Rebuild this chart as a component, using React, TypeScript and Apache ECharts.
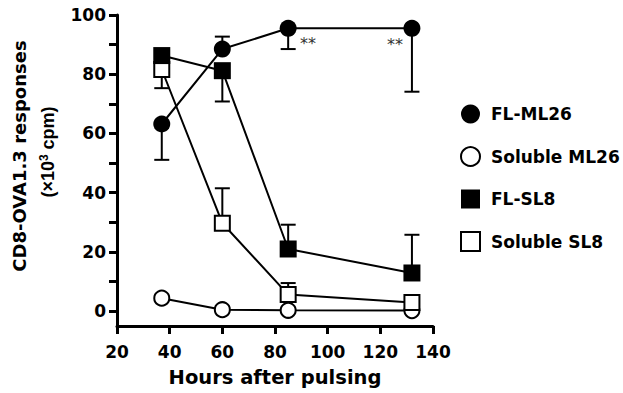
import React, { useEffect, useRef } from "react";
import * as echarts from "echarts";

// ---- data ----
const hours = [37, 60, 85, 132];
const seriesNames = ["FL-ML26", "Soluble ML26", "FL-SL8", "Soluble SL8"];
const flMl26 = [63.2, 88.5, 95.5, 95.5];
const solMl26 = [4.4, 0.5, 0.3, 0.2];
const flSl8 = [86.3, 81.2, 21.0, 12.9];
const solSl8 = [81.6, 29.7, 5.6, 2.9];
// one-sided error bar ends (null = no visible bar)
const flMl26Err = [51.1, 92.7, 88.5, 74.1];
const flSl8Err = [null, 70.8, 29.2, 25.8];
const solSl8Err = [75.3, 41.5, 9.5, null];
// significance marks
const starPoints = [
  [92.5, 90.4],
  [125.6, 90.2],
];
const starText = "**";
// axis ticks
const xTicks = [20, 40, 60, 80, 100, 120, 140];
const yTicks = [0, 10, 20, 30, 40, 50, 60, 70, 80, 90, 100];
const yLabels = [0, 20, 40, 60, 80, 100];
const xTitle = "Hours after pulsing";
const yTitle1 = "CD8-OVA1.3 responses";
const yTitle2 = "(×10{sup|3} cpm)";

const FONT = "DejaVu Sans";

function pts(vals: number[]) {
  return hours.map((h, i) => [h, vals[i]]);
}
function errPts(vals: number[], errs: (number | null)[]) {
  const out: number[][] = [];
  hours.forEach((h, i) => {
    const e = errs[i];
    if (e !== null) out.push([h, vals[i], e]);
  });
  return out;
}

export default function App() {
  const ref = useRef<HTMLDivElement>(null);
  useEffect(() => {
    if (!ref.current) return;
    const chart = echarts.init(ref.current, undefined, { renderer: "svg" });

    const errRender = (params: any, api: any) => {
      const x = api.value(0);
      const y = api.value(1);
      const e = api.value(2);
      const p0 = api.coord([x, y]);
      const p1 = api.coord([x, e]);
      const hw = 7.5;
      return {
        type: "group",
        children: [
          {
            type: "line",
            shape: { x1: p0[0], y1: p0[1], x2: p1[0], y2: p1[1] },
            style: { stroke: "#000", lineWidth: 2 },
          },
          {
            type: "line",
            shape: { x1: p1[0] - hw, y1: p1[1], x2: p1[0] + hw, y2: p1[1] },
            style: { stroke: "#000", lineWidth: 2 },
          },
        ],
      };
    };

    const starRender = (params: any, api: any) => {
      const p = api.coord([api.value(0), api.value(1)]);
      return {
        type: "text",
        x: p[0],
        y: p[1],
        style: {
          text: starText,
          fill: "#333",
          fontFamily: FONT,
          fontSize: 16,
          align: "center",
          verticalAlign: "middle",
        },
      };
    };

    const filled = { color: "#000", borderColor: "#000", borderWidth: 0 };
    const open = { color: "#fff", borderColor: "#000", borderWidth: 2 };
    const lineStyle = { color: "#000", width: 2 };

    const option: any = {
      animation: false,
      backgroundColor: "#fff",
      grid: { left: 117, right: 190, top: 15, bottom: 67, containLabel: false },
      xAxis: {
        type: "value",
        min: xTicks[0],
        max: xTicks[xTicks.length - 1],
        interval: 20,
        name: xTitle,
        nameLocation: "middle",
        nameGap: 41,
        nameTextStyle: { fontFamily: FONT, fontWeight: "bold", fontSize: 19.5, color: "#000" },
        axisLine: { show: true, onZero: false, lineStyle: { color: "#000", width: 3 } },
        axisTick: { show: true, length: 8, lineStyle: { color: "#000", width: 3 } },
        axisLabel: { margin: 17, fontFamily: FONT, fontWeight: "bold", fontSize: 17, color: "#000" },
        splitLine: { show: false },
      },
      yAxis: {
        type: "value",
        min: -5,
        max: 100,
        axisLine: { show: true, onZero: false, lineStyle: { color: "#000", width: 3 } },
        axisTick: {
          show: true,
          length: 8,
          customValues: yTicks,
          lineStyle: { color: "#000", width: 3 },
        },
        axisLabel: {
          customValues: yLabels,
          margin: 11,
          fontFamily: FONT,
          fontWeight: "bold",
          fontSize: 17,
          color: "#000",
        },
        splitLine: { show: false },
      },
      legend: {
        orient: "vertical",
        left: 460,
        top: 104.5,
        padding: 0,
        itemWidth: 19,
        itemHeight: 19,
        itemGap: 22.5,
        selectedMode: false,
        textStyle: {
          fontFamily: FONT,
          fontWeight: "bold",
          fontSize: 17,
          color: "#000",
          lineHeight: 19,
          padding: [0, 0, 0, 6],
        },
        data: [
          { name: seriesNames[0], icon: "circle" },
          { name: seriesNames[1], icon: "circle" },
          { name: seriesNames[2], icon: "rect" },
          { name: seriesNames[3], icon: "rect" },
        ],
      },
      graphic: [
        {
          type: "text",
          x: 19.5,
          y: 156,
          rotation: Math.PI / 2,
          style: {
            text: yTitle1,
            fontFamily: FONT,
            fontWeight: "bold",
            fontSize: 18,
            fill: "#000",
            align: "center",
            verticalAlign: "middle",
          },
        },
        {
          type: "text",
          x: 48,
          y: 152,
          rotation: Math.PI / 2,
          style: {
            text: yTitle2,
            fontFamily: "Liberation Sans",
            fontWeight: "bold",
            fontSize: 18,
            lineHeight: 20,
            fill: "#000",
            align: "center",
            verticalAlign: "middle",
            rich: {
              sup: {
                fontFamily: "Liberation Sans",
                fontWeight: "bold",
                fontSize: 12,
                lineHeight: 20,
                verticalAlign: "top",
                fill: "#000",
              },
            },
          },
        },
      ],
      series: [
        {
          type: "custom",
          name: "errors",
          renderItem: errRender,
          data: [
            ...errPts(flMl26, flMl26Err),
            ...errPts(flSl8, flSl8Err),
            ...errPts(solSl8, solSl8Err),
          ],
          z: 1,
          silent: true,
        },
        {
          type: "line",
          name: seriesNames[1],
          data: pts(solMl26),
          symbol: "circle",
          symbolSize: 15,
          itemStyle: open,
          lineStyle,
          z: 2,
          silent: true,
        },
        {
          type: "line",
          name: seriesNames[3],
          data: pts(solSl8),
          symbol: "rect",
          symbolSize: 15,
          itemStyle: open,
          lineStyle,
          z: 2,
          silent: true,
        },
        {
          type: "line",
          name: seriesNames[2],
          data: pts(flSl8),
          symbol: "rect",
          symbolSize: 17,
          itemStyle: filled,
          lineStyle,
          z: 2,
          silent: true,
        },
        {
          type: "line",
          name: seriesNames[0],
          data: pts(flMl26),
          symbol: "circle",
          symbolSize: 17,
          itemStyle: filled,
          lineStyle,
          z: 2,
          silent: true,
        },
        {
          type: "custom",
          name: "stars",
          renderItem: starRender,
          data: starPoints,
          z: 3,
          silent: true,
        },
      ],
    };
    chart.setOption(option);
    return () => chart.dispose();
  }, []);
  return (
    <div
      ref={ref}
      style={{ position: "fixed", left: 0, top: 0, width: 623, height: 393, background: "#fff" }}
    />
  );
}
